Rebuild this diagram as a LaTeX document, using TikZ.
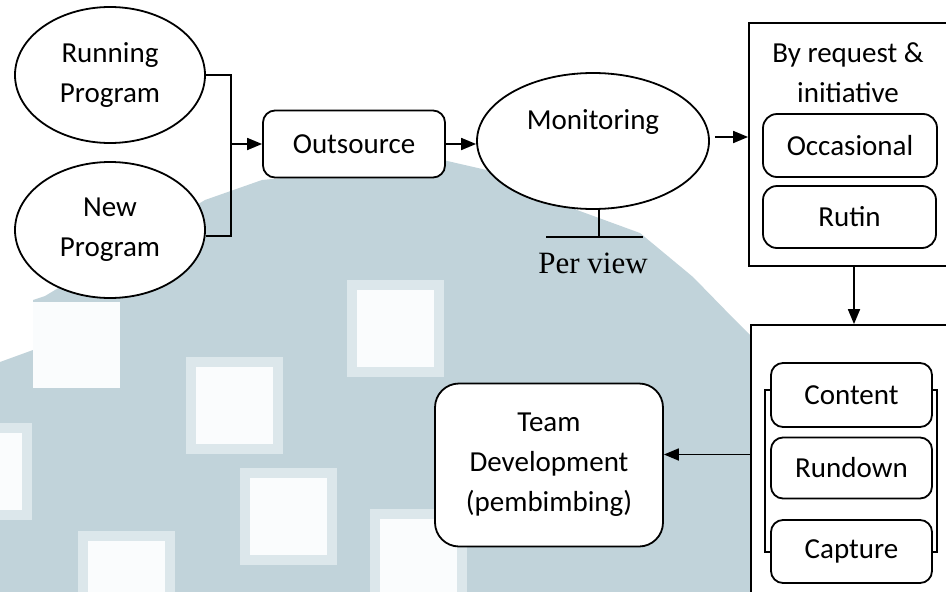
\documentclass[tikz,border=0pt]{standalone}
\usepackage{fontspec}
\setmainfont{Carlito}
\newfontfamily\serifview{Liberation Serif}
\usepackage{xcolor}
\definecolor{wmblue}{HTML}{C1D3DA}
\definecolor{wmring}{HTML}{DCE7EB}
\definecolor{wmwhite}{HTML}{FAFCFD}
\usepackage{tikz}
\usetikzlibrary{shapes.geometric,arrows.meta,positioning,calc}

\begin{document}
\begin{tikzpicture}[x=1pt, y=-1pt, line width=1.8pt,
    every node/.style={font=\fontsize{29}{40}\selectfont, align=center, inner sep=0pt},
    oval/.style={draw, ellipse, fill=white, minimum width=190pt, minimum height=136pt},
    rbox/.style={draw, rectangle, rounded corners=12pt, fill=white},
    frame/.style={draw, rectangle, fill=white},
    arr/.style={-{Triangle[length=15pt,width=12pt]}}]
        \useasboundingbox (0,0) rectangle (946,592);
        % Watermark
        \fill[wmblue] (0,592) -- (0,362) -- (33,350) -- (33,300) -- (45,296) -- (205,200)
          -- (262,180) -- (333,173) -- (443,160) -- (530,180) -- (577,210) -- (640,233) -- (693,277)
          -- (735,320) -- (760,345) -- (760,592) -- cycle;
        \fill[wmwhite] (33,302) rectangle ++(87,86);
        \foreach \x/\y in {196/367,357/290,250/478,88/541,380/519,-55/433} {
          \filldraw[wmwhite, draw=wmring, line width=10pt] (\x-5,\y-5) rectangle ++(87,87);
        }
        % Programs
        \node[oval] (running) at (110,75) {Running\\Program};
        \node[oval] (newprog) at (110,230) {New\\Program};
        \coordinate (merge) at (231,144);
        \draw (running.east) -| (merge) |- ([yshift=-6pt]newprog.east);
        % Outsource
        \node[rbox, minimum width=182pt, minimum height=67pt] (outsource) at (354,144) {Outsource};
        \draw[arr] (merge) -- (outsource.west);
        % Monitoring
        \node[oval, minimum width=232pt] (monitor) at (593,141) {};
        \node (montext) at (593,122) {Monitoring};
        \draw[arr] (outsource.east) -- (outsource.east -| monitor.west);
        \draw ([xshift=6pt]monitor.south) -- ++(0,27) coordinate (stem);
        \draw ([xshift=-53pt]stem) -- ([xshift=44pt]stem);
        \node[font=\serifview\fontsize{31}{36}\selectfont] (perview) at (593,263) {Per view};
        % By request & initiative
        \node[frame, minimum width=206pt, minimum height=243pt] (reqbox) at (852,144.5) {};
        \node (reqtext) at (848,73) {By request \&\\initiative};
        \node[rbox, minimum width=174pt, minimum height=63pt, rounded corners=14pt] (occasional) at (850,145.5) {Occasional};
        \node[rbox, minimum width=173pt, minimum height=62pt, rounded corners=14pt] (rutin) at (849.5,217) {Rutin};
        \draw[arr] ([xshift=5pt,yshift=4pt]monitor.east) -- ([yshift=4pt]monitor.east -| reqbox.west);
        % Production
        \node[frame, minimum width=204pt, minimum height=275pt] (taskbox) at (853,462.5) {};
        \draw[arr] ([xshift=2pt]reqbox.south) -- ([xshift=2pt]reqbox.south |- taskbox.north);
        \node[frame, minimum width=172pt, minimum height=162pt] (group) at (851,471) {};
        \node[rbox, minimum width=161pt, minimum height=64pt] (content) at (851.5,395) {Content};
        \node[rbox, minimum width=161pt, minimum height=61pt] (rundown) at (851.5,468) {Rundown};
        \node[rbox, minimum width=161pt, minimum height=63pt] (capture) at (851.5,551.5) {Capture};
        % Team development
        \node[rbox, minimum width=228pt, minimum height=163pt, rounded corners=24pt] (team) at (549,465) {Team\\Development\\(pembimbing)};
        \draw[arr] ([yshift=8pt]taskbox.west) -- ([yshift=8pt]taskbox.west -| team.east);
      \end{tikzpicture}
\end{document}
